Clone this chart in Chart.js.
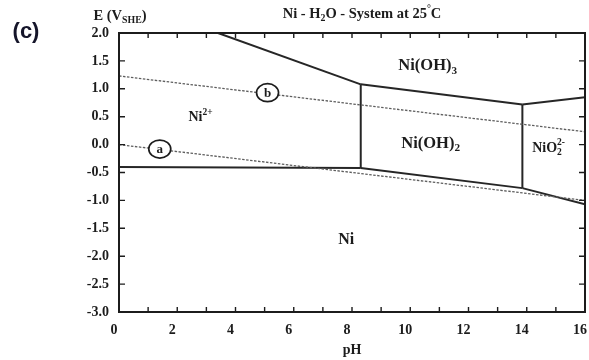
<!DOCTYPE html>
<html>
<head>
<meta charset="utf-8">
<title>Ni - H2O Pourbaix</title>
<script src="https://cdn.jsdelivr.net/npm/chart.js@4.4.1/dist/chart.umd.min.js"></script>
<style>
  html, body { margin: 0; padding: 0; background: #fff; }
  #wrap { width: 589px; height: 360px; }
</style>
</head>
<body>
<div id="wrap"><canvas id="pourbaix" width="589" height="360"></canvas></div>
<script>
// phase boundaries, x = pH, y = E (V vs SHE)
const ni2_ni        = [{x: 0, y: -0.40}, {x: 8.3, y: -0.42}];
const ni2_niOH2     = [{x: 8.3, y: -0.42}, {x: 8.3, y: 1.08}];
const ni2_niOH3     = [{x: 3.4, y: 2.0}, {x: 8.3, y: 1.08}];
const niOH2_niOH3   = [{x: 8.3, y: 1.08}, {x: 13.85, y: 0.72}];
const niOH2_niO2    = [{x: 13.85, y: 0.72}, {x: 13.85, y: -0.78}];
const niOH2_ni      = [{x: 8.3, y: -0.42}, {x: 13.85, y: -0.78}];
const niO2_niOH3    = [{x: 13.85, y: 0.72}, {x: 16, y: 0.85}];
const niO2_ni       = [{x: 13.85, y: -0.78}, {x: 16, y: -1.07}];

// water stability lines
const lineA = [{x: 0, y: 0.0}, {x: 16, y: -1.0}];
const lineB = [{x: 0, y: 1.23}, {x: 16, y: 0.23}];

// circled markers on the water lines
const markerNames = ['a', 'b'];
const markerPH    = [1.4, 5.1];
const markerE     = [-0.08, 0.93];

// species labels
const speciesPH = [2.8, 10.6, 10.7, 14.75, 7.8];
const speciesE  = [0.48, 1.41, 0.02, -0.06, -1.7];

const pHTickLabels = ['0', '2', '4', '6', '8', '10', '12', '14', '16'];
const eTickLabels  = ['2.0', '1.5', '1.0', '0.5', '0.0', '-0.5', '-1.0', '-1.5', '-2.0', '-2.5', '-3.0'];

const SERIF = '"Liberation Serif", "Times New Roman", serif';
const INK = '#1c1c1c';

function solid(data) {
    return {data: data, borderColor: '#262626', borderWidth: 2, pointRadius: 0, showLine: true, fill: false};
}
function dotted(data) {
    return {data: data, borderColor: '#5e5e5e', borderWidth: 1.3, borderDash: [2.5, 1.5], pointRadius: 0, showLine: true, fill: false};
}

// draws text pieces with sub/superscripts, centred on x
function richText(ctx, parts, x, y, size) {
    let widths = parts.map(function(p) {
        ctx.font = 'bold ' + (p.small ? size * 0.68 : size) + 'px ' + SERIF;
        let w = ctx.measureText(p.t || '').width;
        if (p.sub2) {
            w = Math.max(w, ctx.measureText(p.sub2).width);
        }
        return w;
    });
    let total = widths.reduce(function(a, b) { return a + b; }, 0);
    let cx = x - total / 2;
    ctx.textBaseline = 'middle';
    ctx.textAlign = 'left';
    parts.forEach(function(p, i) {
        ctx.font = 'bold ' + (p.small ? size * 0.68 : size) + 'px ' + SERIF;
        ctx.fillText(p.t, cx, y + (p.dy || 0) * size);
        if (p.sub2) ctx.fillText(p.sub2, cx, y + 0.32 * size);
        cx += widths[i];
    });
}

const decorations = {
    id: 'decorations',
    afterDatasetsDraw(chart) {
        const ctx = chart.ctx;
        const xs = chart.scales.x, ys = chart.scales.y;
        const a = chart.chartArea;
        ctx.save();

        // frame with inward ticks on all four sides
        ctx.strokeStyle = INK;
        ctx.lineWidth = 2;
        ctx.strokeRect(a.left, a.top, a.right - a.left, a.bottom - a.top);
        ctx.lineWidth = 1.4;
        ctx.beginPath();
        for (let p = 1; p < 16; p++) {
            let px = xs.getPixelForValue(p);
            ctx.moveTo(px, a.bottom); ctx.lineTo(px, a.bottom - 5);
            ctx.moveTo(px, a.top); ctx.lineTo(px, a.top + 5);
        }
        for (let e = -2.5; e < 2.0; e += 0.5) {
            let py = ys.getPixelForValue(e);
            ctx.moveTo(a.left, py); ctx.lineTo(a.left + 6, py);
            ctx.moveTo(a.right, py); ctx.lineTo(a.right - 6, py);
        }
        ctx.stroke();

        // circled markers
        markerNames.forEach(function(name, i) {
            let px = xs.getPixelForValue(markerPH[i]);
            let py = ys.getPixelForValue(markerE[i]);
            ctx.beginPath();
            ctx.ellipse(px, py, 11, 9, 0, 0, Math.PI * 2);
            ctx.fillStyle = '#fff';
            ctx.fill();
            ctx.lineWidth = 1.7;
            ctx.strokeStyle = INK;
            ctx.stroke();
            ctx.fillStyle = INK;
            ctx.font = 'bold 13px ' + SERIF;
            ctx.textAlign = 'center';
            ctx.textBaseline = 'middle';
            ctx.fillText(name, px, py + 0.5);
        });

        // species
        ctx.fillStyle = INK;
        const species = [
            [{t: 'Ni'}, {t: '2+', small: true, dy: -0.4}],
            [{t: 'Ni(OH)'}, {t: '3', small: true, dy: 0.3}],
            [{t: 'Ni(OH)'}, {t: '2', small: true, dy: 0.3}],
            [{t: 'NiO'}, {t: '2-', small: true, dy: -0.38, sub2: '2'}],
            [{t: 'Ni'}]
        ];
        const sizes = [14, 16.5, 16.5, 14, 16];
        species.forEach(function(parts, i) {
            richText(ctx, parts, xs.getPixelForValue(speciesPH[i]), ys.getPixelForValue(speciesE[i]), sizes[i]);
        });

        // header texts
        richText(ctx, [{t: 'Ni - H'}, {t: '2', small: true, dy: 0.3}, {t: 'O - System at 25'}, {t: '°', small: true, dy: -0.3}, {t: 'C'}], 362, 14, 14.5);
        richText(ctx, [{t: 'E (V'}, {t: 'SHE', small: true, dy: 0.3}, {t: ')'}], 120, 16, 14.5);

        ctx.font = 'bold 22px "Liberation Sans", Arial, sans-serif';
        ctx.fillStyle = '#15152a';
        ctx.textAlign = 'center';
        ctx.textBaseline = 'middle';
        ctx.fillText('(c)', 26, 32);
        ctx.restore();
    }
};

new Chart(document.getElementById('pourbaix'), {
    type: 'scatter',
    data: {
        datasets: [
            dotted(lineA), dotted(lineB),
            solid(ni2_ni), solid(ni2_niOH2), solid(ni2_niOH3), solid(niOH2_niOH3),
            solid(niOH2_niO2), solid(niOH2_ni), solid(niO2_niOH3), solid(niO2_ni)
        ]
    },
    options: {
        responsive: false,
        animation: false,
        devicePixelRatio: 1,
        layout: {padding: {left: 0, top: 33, right: 4, bottom: 0}},
        plugins: {legend: {display: false}, tooltip: {enabled: false}},
        scales: {
            x: {
                type: 'linear', min: 0, max: 16,
                grid: {display: false, drawTicks: false},
                border: {display: false},
                ticks: {
                    stepSize: 2, padding: 10, labelOffset: -5, color: INK,
                    font: {family: SERIF, size: 14, weight: 'bold'},
                    callback: function(v) { return pHTickLabels[v / 2]; }
                },
                title: {display: true, text: 'pH', color: INK, padding: {top: 0, bottom: 1},
                        font: {family: SERIF, size: 14, weight: 'bold'}},
                afterFit: function(s) { s.height = 48; s.paddingLeft = 0; s.paddingRight = 0; }
            },
            y: {
                type: 'linear', min: -3, max: 2,
                grid: {display: false, drawTicks: false},
                border: {display: false},
                ticks: {
                    stepSize: 0.5, padding: 10, color: INK,
                    font: {family: SERIF, size: 14, weight: 'bold'},
                    callback: function(v) { return eTickLabels[Math.round((2 - v) / 0.5)]; }
                },
                afterFit: function(s) { s.width = 119; s.paddingTop = 0; s.paddingBottom = 0; }
            }
        }
    },
    plugins: [decorations]
});
</script>
</body>
</html>
